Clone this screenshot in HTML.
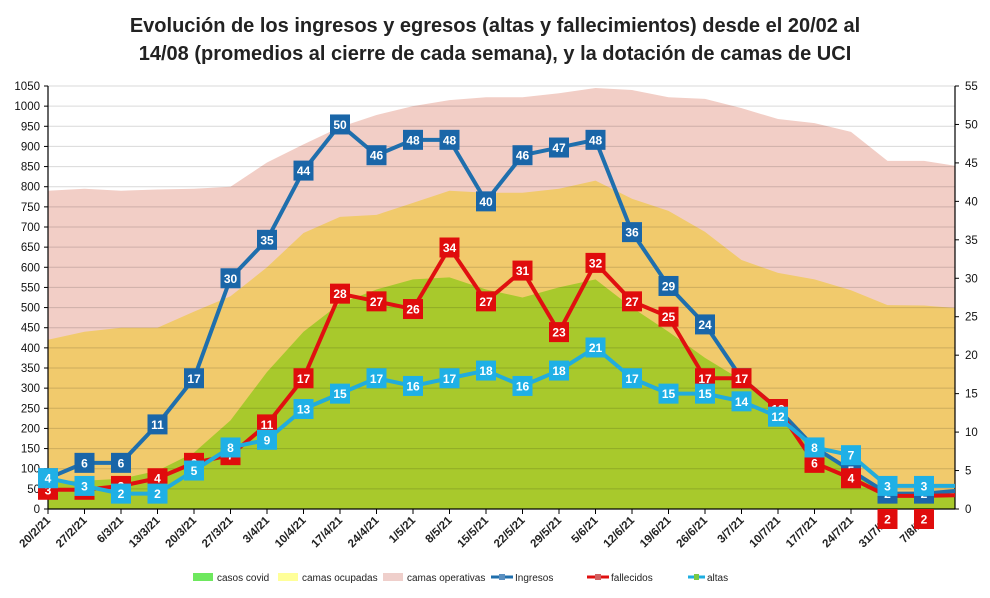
<!DOCTYPE html>
<html><head><meta charset="utf-8">
<style>
body{margin:0;background:#fff;}
svg{display:block;font-family:"Liberation Sans",sans-serif;}
</style></head>
<body>
<svg id="chart" width="990" height="598" viewBox="0 0 990 598" xmlns="http://www.w3.org/2000/svg">
<text x="495" y="32" text-anchor="middle" font-size="20" font-weight="bold" fill="#222">Evolución de los ingresos y egresos (altas y fallecimientos) desde el 20/02 al</text>
<text x="495" y="60" text-anchor="middle" font-size="20" font-weight="bold" fill="#222">14/08 (promedios al cierre de cada semana), y la dotación de camas de UCI</text>
<defs><clipPath id="plotclip"><rect x="48" y="70" width="907" height="440"/></clipPath></defs>
<g id="areas" clip-path="url(#plotclip)"></g>
<g id="grid"></g>
<g id="axes"></g>
<g id="lines" clip-path="url(#plotclip)"></g>
<g id="marks"></g>
<g id="legend">
  <rect x="193" y="573" width="20" height="8" fill="#6ee85e"/>
  <text x="217" y="581" font-size="10" fill="#222">casos covid</text>
  <rect x="278" y="573" width="20" height="8" fill="#ffff99"/>
  <text x="302" y="581" font-size="10" fill="#222">camas ocupadas</text>
  <rect x="383" y="573" width="20" height="8" fill="#efcfcb"/>
  <text x="407" y="581" font-size="10" fill="#222">camas operativas</text>
  <line x1="491" y1="577" x2="513" y2="577" stroke="#1f6fad" stroke-width="3"/>
  <rect x="499" y="574" width="6" height="6" fill="#5a8fc0"/>
  <text x="515" y="581" font-size="10" fill="#222">Ingresos</text>
  <line x1="587" y1="577" x2="609" y2="577" stroke="#e01010" stroke-width="3"/>
  <rect x="595" y="574" width="6" height="6" fill="#d06060"/>
  <text x="611" y="581" font-size="10" fill="#222">fallecidos</text>
  <line x1="688" y1="577" x2="705" y2="577" stroke="#1eaee0" stroke-width="3"/>
  <rect x="694" y="574" width="5" height="6" fill="#7ac943"/>
  <text x="707" y="581" font-size="10" fill="#222">altas</text>
</g>
</svg>
<script>
const categories=["20/2/21","27/2/21","6/3/21","13/3/21","20/3/21","27/3/21","3/4/21","10/4/21","17/4/21","24/4/21","1/5/21","8/5/21","15/5/21","22/5/21","29/5/21","5/6/21","12/6/21","19/6/21","26/6/21","3/7/21","10/7/21","17/7/21","24/7/21","31/7/21","7/8/21","14/8/21"];
const casosCovid=[70,70,75,95,140,220,340,440,510,545,570,575,545,525,550,570,500,440,375,320,250,150,90,40,35,30];
const camasOcupadas=[420,440,450,450,490,528,600,685,725,730,760,790,785,785,795,815,770,740,688,618,586,570,543,506,505,498];
const camasOperativas=[790,795,790,793,795,800,860,905,948,978,1000,1015,1022,1022,1032,1045,1040,1022,1018,995,968,958,936,864,864,850];
const ingresos=[4,6,6,11,17,30,35,44,50,46,48,48,40,46,47,48,36,29,24,17,13,8,5,2,2,2.4];
const fallecidos=[2.5,2.5,3,4,6,7,11,17,28,27,26,34,27,31,23,32,27,25,17,17,13,6,4,1.7,1.7,1.8];
const altas=[4,3,2,2,5,8,9,13,15,17,16,17,18,16,18,21,17,15,15,14,12,8,7,3,3,3];
const leftTicks=[0,50,100,150,200,250,300,350,400,450,500,550,600,650,700,750,800,850,900,950,1000,1050];
const rightTicks=[0,5,10,15,20,25,30,35,40,45,50,55];
const showLabel=categories.map((c,i)=>i<categories.length-1);

const NS="http://www.w3.org/2000/svg";
const X0=48,X1=955,Y0=509,Y1=86,STEP=36.5;
const xPos=i=>X0+i*STEP;
const yL=v=>Y0-(v/1050)*(Y0-Y1);
const yR=v=>Y0-(v/55)*(Y0-Y1);
function mk(tag,attrs,parent){const e=document.createElementNS(NS,tag);for(const k in attrs)e.setAttribute(k,attrs[k]);parent.appendChild(e);return e;}

const areas=document.getElementById('areas');
function area(vals,fill,name){
  let d=`M${xPos(0)},${Y0}`;
  vals.forEach((v,i)=>{d+=` L${xPos(i)},${yL(v)}`;});
  d+=` L${xPos(vals.length-1)},${Y0} Z`;
  const p=mk('path',{d:d,fill:fill},areas);
  
  
}
area(camasOperativas,'#f2cec6','area-camas-operativas');
area(camasOcupadas,'#f1ca6c','area-camas-ocupadas');
area(casosCovid,'#a8c92c','area-casos-covid');

const grid=document.getElementById('grid');
leftTicks.forEach(t=>{
  if(t===0)return;
  const l=mk('line',{x1:X0,x2:X1,y1:yL(t),y2:yL(t),stroke:'#000','stroke-opacity':'0.15','stroke-width':'1'},grid);
  
  
});

const axes=document.getElementById('axes');
let a=mk('line',{x1:X0,x2:X0,y1:Y1,y2:Y0,stroke:'#000','stroke-width':'1.2'},axes);


a=mk('line',{x1:X1,x2:X1,y1:Y1,y2:Y0,stroke:'#000','stroke-width':'1.2'},axes);


a=mk('line',{x1:X0,x2:X1,y1:Y0,y2:Y0,stroke:'#000','stroke-width':'1.2'},axes);


leftTicks.forEach(t=>{
  const tx=mk('text',{x:X0-8,y:yL(t)+4,'text-anchor':'end','font-size':'11.5',fill:'#111'},axes);
  tx.textContent=t;
  
  
  mk('line',{x1:X0-4,x2:X0,y1:yL(t),y2:yL(t),stroke:'#000'},axes);
});
rightTicks.forEach(t=>{
  const tx=mk('text',{x:X1+10,y:yR(t)+4,'text-anchor':'start','font-size':'11.5',fill:'#111'},axes);
  tx.textContent=t;
  
  
  mk('line',{x1:X1,x2:X1+4,y1:yR(t),y2:yR(t),stroke:'#000'},axes);
});
categories.forEach((c,i)=>{
  if(!showLabel[i])return;
  const x=xPos(i);
  mk('line',{x1:x,x2:x,y1:Y0,y2:Y0+5,stroke:'#000'},axes);
  const tx=mk('text',{x:x+3,y:Y0+12,'text-anchor':'end','font-size':'11.5','font-weight':'bold',fill:'#222',transform:`rotate(-45 ${x+3} ${Y0+12})`},axes);
  tx.textContent=c;
  
  
});

const lines=document.getElementById('lines');
const marks=document.getElementById('marks');
function series(vals,color,name){
  const pts=vals.map((v,i)=>`${xPos(i)},${yR(v)}`).join(' ');
  const pl=mk('polyline',{points:pts,fill:'none',stroke:color,'stroke-width':'4','stroke-linejoin':'round'},lines);
  
  
}
function markers(vals,color,name,lblShift){
  vals.forEach((v,i)=>{
    if(!showLabel[i])return;
    const x=xPos(i);let y=yR(v);
    if(lblShift && v<2)y=Y0+10;
    const r=mk('rect',{x:x-10,y:y-10,width:20,height:20,fill:color},marks);
    
    
    const t=mk('text',{x:x,y:y+4.5,'text-anchor':'middle','font-size':'12','font-weight':'bold',fill:'#fff'},marks);
    t.textContent=Math.round(v);
    
    
  });
}
series(ingresos,'#1f6fad','ingresos');
series(fallecidos,'#e01010','fallecidos');
series(altas,'#22acdc','altas');
markers(ingresos,'#1a66a8','ingresos',false);
markers(fallecidos,'#e00c0c','fallecidos',true);
markers(altas,'#1fb0e6','altas',false);
</script>
</body></html>
